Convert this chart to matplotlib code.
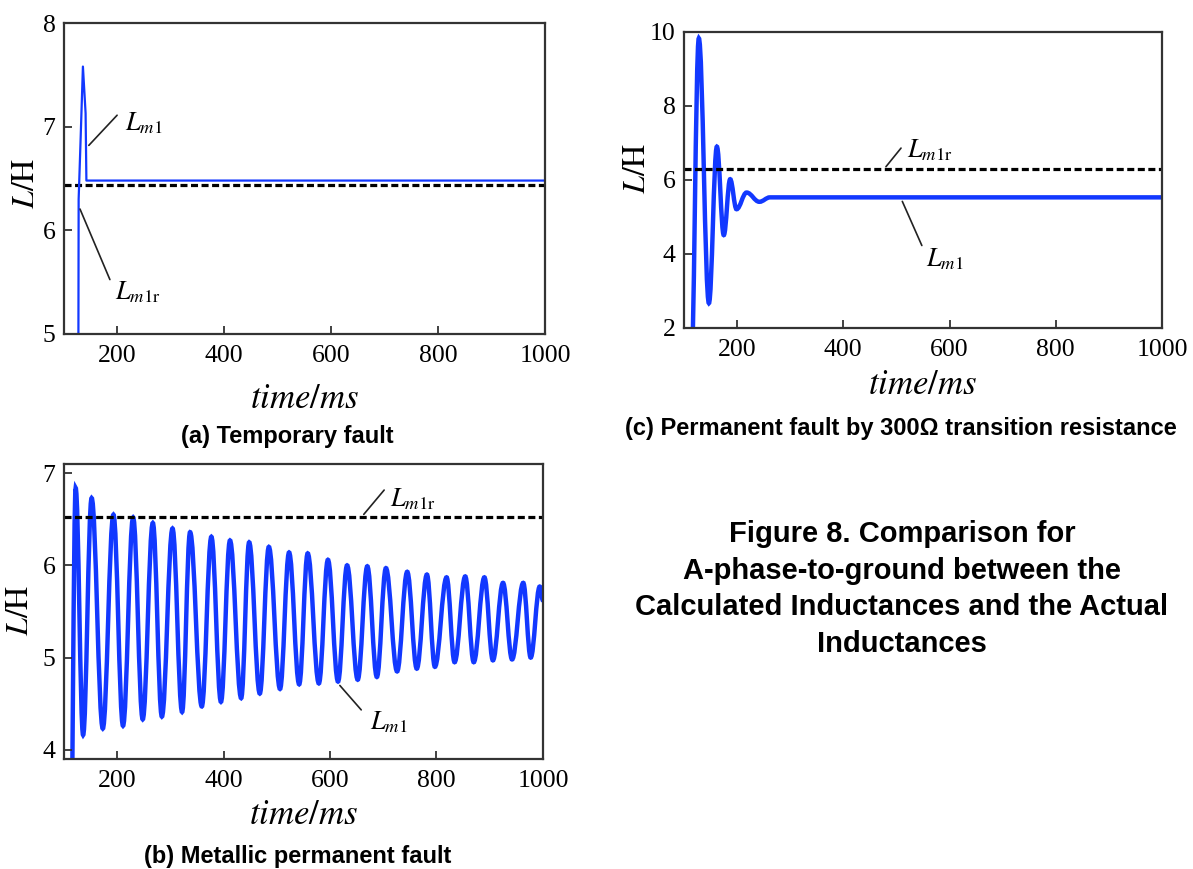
import matplotlib
matplotlib.use('Agg')
import matplotlib.pyplot as plt
from matplotlib.path import Path
from matplotlib.patches import PathPatch

plt.rcParams['font.family'] = 'Liberation Serif'
plt.rcParams['mathtext.fontset'] = 'stix'

# (a) temporary fault
time_a = [127, 127.5, 131, 135.5, 140.5, 142, 1000]
lm1_a = [4.8, 6.3, 6.85, 7.58, 7.13, 6.48, 6.48]
lm1r_a = 6.44

# (b) metallic permanent fault: peaks and troughs of the oscillation
peak_t_b = [122, 152, 193, 230, 267, 304, 337, 377, 412, 448, 485, 523, 558,
            596, 632, 670, 705, 745, 782, 819, 854, 890, 925, 963, 994]
peak_v_b = [6.84, 6.73, 6.55, 6.52, 6.46, 6.40, 6.36, 6.31, 6.27, 6.25, 6.20,
            6.14, 6.13, 6.06, 6.00, 5.99, 5.97, 5.93, 5.90, 5.87, 5.88, 5.87,
            5.81, 5.81, 5.77]
trough_t_b = [136, 173, 211, 248, 284, 322, 359, 395, 433, 468, 506, 542, 579,
              615, 652, 688, 726, 763, 797, 834, 870, 906, 942, 977]
trough_v_b = [4.16, 4.23, 4.26, 4.33, 4.36, 4.41, 4.47, 4.52, 4.56, 4.61, 4.66,
              4.71, 4.72, 4.74, 4.76, 4.79, 4.85, 4.88, 4.90, 4.95, 4.95, 4.97,
              4.98, 5.00]
start_b = (112, 2.5)
end_b = (1000, 5.62)
lm1r_b = 6.53

# (c) permanent fault by 300 ohm transition resistance
time_c = [113, 128, 147, 162, 175, 187, 199, 218, 242, 262, 1000]
lm1_c = [0.5, 9.83, 2.67, 6.90, 4.51, 6.02, 5.21, 5.66, 5.41, 5.53, 5.53]
lm1r_c = 6.30

xticks = [200, 400, 600, 800, 1000]
blue = '#1238ff'


def smooth_path(ts, vs, k=0.38):
    # cubic segments with flat tangents at each turning point
    verts = [(ts[0], vs[0])]
    codes = [Path.MOVETO]
    for i in range(1, len(ts)):
        dt = ts[i] - ts[i - 1]
        verts += [(ts[i - 1] + k * dt, vs[i - 1]), (ts[i] - k * dt, vs[i]), (ts[i], vs[i])]
        codes += [Path.CURVE4] * 3
    return Path(verts, codes)


def style_axes(ax, ylim, yticks, xlab_y, ylab_x, ylab_y):
    ax.set_xlim(100, 1000)
    ax.set_ylim(*ylim)
    ax.set_xticks(xticks)
    ax.set_yticks(yticks)
    ax.tick_params(direction='in', length=6, width=1.3, labelsize=18.5, color='#333333')
    ax.tick_params(axis='x', pad=8)
    ax.tick_params(axis='y', pad=6)
    for s in ax.spines.values():
        s.set_color('#333333')
        s.set_linewidth(1.6)
    ax.set_xlabel(r'$time/\mathit{ms}$', fontsize=25, va='center')
    ax.xaxis.set_label_coords(0.5, xlab_y)
    ax.set_ylabel(r'$L/\mathrm{H}$', fontsize=23, va='center')
    ax.yaxis.set_label_coords(ylab_x, ylab_y)


def leader(ax, p0, p1, label, tpos):
    ax.annotate('', xy=p0, xytext=p1,
                arrowprops=dict(arrowstyle='-', lw=1.2, color='#222222'))
    ax.text(tpos[0], tpos[1], label, fontsize=19, va='center', ha='left')


fig = plt.figure(figsize=(11.93, 8.69), dpi=100)
ax_a = fig.add_axes([0.0536, 0.6157, 0.4032, 0.3578])
ax_b = fig.add_axes([0.0536, 0.1266, 0.4015, 0.3395])
ax_c = fig.add_axes([0.5733, 0.6226, 0.4007, 0.3406])

lbl_m1 = r'$L_{m\mathrm{1}}$'
lbl_m1r = r'$L_{m\mathrm{1r}}$'
dash = dict(color='black', lw=2.3, dashes=(2.2, 1.1))

# (a)
ax_a.axhline(lm1r_a, **dash)
ax_a.plot(time_a, lm1_a, color=blue, lw=1.6)
style_axes(ax_a, (5, 8), [5, 6, 7, 8], -0.21, -0.078, 0.486)
leader(ax_a, (143, 6.80), (203, 7.13), lbl_m1, (215, 7.03))
leader(ax_a, (128, 6.23), (188, 5.50), lbl_m1r, (195, 5.40))

# (b)
seq_t, seq_v = [start_b[0]], [start_b[1]]
for i in range(len(peak_t_b)):
    seq_t.append(peak_t_b[i])
    seq_v.append(peak_v_b[i])
    if i < len(trough_t_b):
        seq_t.append(trough_t_b[i])
        seq_v.append(trough_v_b[i])
seq_t.append(end_b[0])
seq_v.append(end_b[1])
ax_b.axhline(lm1r_b, **dash)
ax_b.add_patch(PathPatch(smooth_path(seq_t, seq_v), fill=False, ec=blue, lw=3.2))
style_axes(ax_b, (3.9, 7.1), [4, 5, 6, 7], -0.19, -0.09, 0.505)
leader(ax_b, (660, 6.53), (705, 6.84), lbl_m1r, (712, 6.72))
leader(ax_b, (615, 4.72), (662, 4.41), lbl_m1, (675, 4.30))

# (c)
ax_c.axhline(lm1r_c, **dash)
ax_c.add_patch(PathPatch(smooth_path(time_c, lm1_c), fill=False, ec=blue, lw=3.2))
style_axes(ax_c, (2, 10), [2, 4, 6, 8, 10], -0.193, -0.098, 0.54)
leader(ax_c, (477, 6.30), (512, 6.92), lbl_m1r, (520, 6.80))
leader(ax_c, (509, 5.49), (550, 4.16), lbl_m1, (555, 3.85))

# captions
cap = dict(family='Liberation Sans', fontweight='bold', fontsize=17, ha='center', va='center')
fig.text(287 / 1193, 1 - 437 / 869, '(a) Temporary fault', **cap)
fig.text(298 / 1193, 1 - 857 / 869, '(b) Metallic permanent fault', **cap)
fig.text(901 / 1193, 1 - 428 / 869, '(c) Permanent fault by 300\u03a9 transition resistance', **cap)
fig.text(902 / 1193, 1 - 589 / 869,
         'Figure 8. Comparison for\nA-phase-to-ground between the\n'
         'Calculated Inductances and the Actual\nInductances',
         family='Liberation Sans', fontweight='bold', fontsize=21,
         ha='center', va='center', linespacing=1.38)

fig.savefig('out.png', dpi=100)
